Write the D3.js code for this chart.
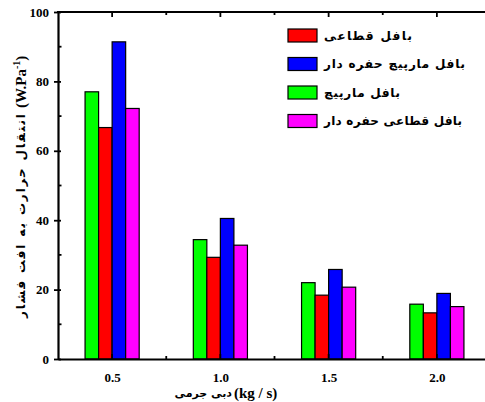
<!DOCTYPE html>
<html><head><meta charset="utf-8">
<script src="https://cdn.jsdelivr.net/npm/d3@7"></script>
<style>body{margin:0;background:#fff;} svg{display:block;}</style>
</head><body>
<svg id="c" width="485" height="402"></svg>
<script>
const categories = [0.5, 1.0, 1.5, 2.0];
const xTickLabels = ["0.5", "1.0", "1.5", "2.0"];
const yTicks = [0, 20, 40, 60, 80, 100];
const seriesNames = ["بافل مارپیچ", "بافل قطاعی", "بافل مارپیچ حفره دار", "بافل قطاعی حفره دار"];
const seriesColors = ["#00ff00", "#ff0000", "#0000ff", "#ff00ff"];
const helical = [77.0, 34.4, 22.0, 15.8];
const segmental = [66.7, 29.3, 18.4, 13.3];
const helicalPerforated = [91.4, 40.5, 25.8, 18.9];
const segmentalPerforated = [72.2, 32.8, 20.7, 15.1];
const seriesValues = [helical, segmental, helicalPerforated, segmentalPerforated];
const legendOrder = [1, 2, 0, 3];
const legendTextWidths = [88, 141, 76, 138];

const svg = d3.select("#c");
const x = d3.scaleLinear().domain([0.25, 2.25]).range([58, 491]);
const y = d3.scaleLinear().domain([0, 100]).range([359, 12]);
const bw = 0.0625;

// bars
seriesValues.forEach((vals, si) => {
  svg.append("g").selectAll("rect").data(vals).join("rect")
    .attr("x", (d, i) => x(categories[i] + (si - 2) * bw))
    .attr("width", (d, i) => x(categories[i] + (si - 1) * bw) - x(categories[i] + (si - 2) * bw))
    .attr("y", d => y(d))
    .attr("height", d => y(0) - y(d))
    .attr("fill", seriesColors[si])
    .attr("stroke", "#000").attr("stroke-width", 1.2);
});

const serif = "'Liberation Serif','Times New Roman',serif";
const fa = "'DejaVu Sans',sans-serif";

// y axis (left)
const yAx = svg.append("g").attr("transform", `translate(${x(0.25)},0)`)
  .call(d3.axisLeft(y).tickValues(yTicks).tickSize(4).tickSizeOuter(0).tickPadding(5).tickFormat(d3.format("d")));
yAx.select(".domain").attr("stroke-width", 2.2);
yAx.selectAll(".tick line").attr("x2", -4).attr("x1", 3).attr("stroke-width", 1.8);
yAx.selectAll("text").attr("font-family", serif).attr("font-weight", "bold").attr("font-size", 13).attr("fill", "#000");
// minor y ticks
svg.append("g").selectAll("line").data(d3.range(10, 100, 20)).join("line")
  .attr("x1", x(0.25)).attr("x2", x(0.25) + 3.5).attr("y1", d => y(d)).attr("y2", d => y(d))
  .attr("stroke", "#000").attr("stroke-width", 1.8);

// x axis bottom
const xAx = svg.append("g").attr("transform", `translate(0,${y(0)})`)
  .call(d3.axisBottom(x).tickValues(categories).tickSize(0).tickSizeOuter(0).tickPadding(14).tickFormat((d, i) => xTickLabels[i]));
xAx.select(".domain").attr("stroke-width", 2.2);
xAx.selectAll("text").attr("font-family", serif).attr("font-weight", "bold").attr("font-size", 13).attr("fill", "#000");
// x ticks inward (bottom & top)
const majorX = categories, minorX = [0.75, 1.25, 1.75];
[[y(0), -1], [y(100), 1]].forEach(([yy, dir]) => {
  svg.append("g").selectAll("line").data(majorX).join("line")
    .attr("x1", d => x(d)).attr("x2", d => x(d)).attr("y1", yy).attr("y2", yy + dir * 5)
    .attr("stroke", "#000").attr("stroke-width", 1.8);
  svg.append("g").selectAll("line").data(minorX).join("line")
    .attr("x1", d => x(d)).attr("x2", d => x(d)).attr("y1", yy).attr("y2", yy + dir * 3)
    .attr("stroke", "#000").attr("stroke-width", 1.8);
});
// top frame
svg.append("line").attr("x1", x(0.25) - 1).attr("x2", x(2.25)).attr("y1", y(100)).attr("y2", y(100))
  .attr("stroke", "#000").attr("stroke-width", 2.2);

// legend
const lg = svg.append("g");
legendOrder.forEach((si, k) => {
  const cy = 35.5 + k * 28.5;
  lg.append("rect").attr("x", 288).attr("y", cy - 6.5).attr("width", 29).attr("height", 13)
    .attr("fill", seriesColors[si]).attr("stroke", "#000").attr("stroke-width", 1.2);
  lg.append("text").attr("x", 324).attr("y", cy + 4).attr("font-family", fa).attr("font-weight", "bold")
    .attr("font-size", 12).attr("fill", "#000")
    .attr("textLength", legendTextWidths[k]).attr("lengthAdjust", "spacing")
    .text(seriesNames[si]);
});

// x title
svg.append("text").attr("x", 234).attr("y", 398).attr("text-anchor", "start").attr("fill", "#000")
  .attr("font-weight", "bold").attr("font-family", serif).attr("font-size", 15).text("(kg / s)");
svg.append("text").attr("x", 232).attr("y", 397).attr("text-anchor", "end").attr("fill", "#000")
  .attr("font-weight", "bold").attr("font-family", fa).attr("font-size", 11).text("دبی جرمی");

// y title
const yt = svg.append("g").attr("transform", "translate(25,0) rotate(-90)");
yt.append("text").attr("x", -318).attr("y", 0).attr("text-anchor", "start").attr("fill", "#000")
  .attr("font-weight", "bold").attr("font-family", fa).attr("font-size", 12)
  .attr("textLength", 204).attr("lengthAdjust", "spacing")
  .text("انتقال حرارت به افت فشار");
const yu = yt.append("text").attr("x", -108).attr("y", 1).attr("text-anchor", "start").attr("fill", "#000")
  .attr("font-weight", "bold").attr("font-family", serif).attr("font-size", 15);
yu.append("tspan").text("(W.Pa");
yu.append("tspan").attr("font-size", 10).attr("dy", -6).text("-1");
yu.append("tspan").attr("dy", 6).text(")");
</script>
</body></html>
